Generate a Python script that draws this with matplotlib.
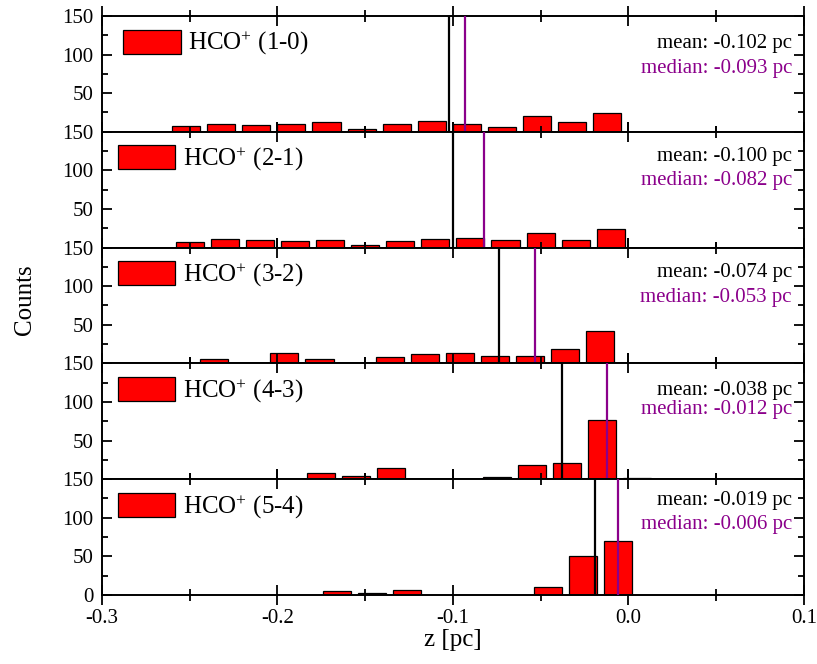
import numpy as np
import matplotlib
matplotlib.use("Agg")
import matplotlib.pyplot as plt
from matplotlib.ticker import MultipleLocator, FixedLocator, FixedFormatter

plt.rcParams['font.family'] = ['Liberation Serif', 'DejaVu Serif']
plt.rcParams['mathtext.fontset'] = 'custom'
plt.rcParams['mathtext.rm'] = 'Liberation Serif'
plt.rcParams['mathtext.it'] = 'Liberation Serif:italic'
plt.rcParams['axes.unicode_minus'] = False

# Histogram data: bin centres (pc) and counts for each transition
labels = ["HCO$^{+}$ (1-0)", "HCO$^{+}$ (2-1)", "HCO$^{+}$ (3-2)",
          "HCO$^{+}$ (4-3)", "HCO$^{+}$ (5-4)"]
bin_step = 0.02
first_centres = [-0.252, -0.250, -0.236, -0.175, -0.166]
counts_10 = [8, 10, 9, 10, 12, 3, 10, 14, 10, 6, 20, 13, 24]
counts_21 = [7, 11, 10, 9, 10, 3, 8, 11, 12, 10, 19, 10, 24]
counts_32 = [6, 0, 14, 6, 0, 8, 12, 13, 10, 10, 19, 42, 1]
counts_43 = [8, 4, 14, 0, 0, 3, 18, 21, 76, 1]
counts_54 = [5, 3, 6, 0, 0, 0, 10, 50, 70]
all_counts = [counts_10, counts_21, counts_32, counts_43, counts_54]
means = [-0.102, -0.100, -0.074, -0.038, -0.019]
medians = [-0.093, -0.082, -0.053, -0.012, -0.006]

purple = '#8B008B'
fig = plt.figure(figsize=(8.17, 6.64), dpi=100)
gs = fig.add_gridspec(5, 1, left=0.1246, right=0.984, top=0.976, bottom=0.104, hspace=0)
axes = [fig.add_subplot(gs[i]) for i in range(5)]

panel_h = 115.5
mean_off = [27, 25, 25, 27, 21]
median_off = [52, 49, 50, 46, 45]
leg_x = [0.0306, 0.023, 0.023, 0.023, 0.023]

for i, ax in enumerate(axes):
    cnt = np.array(all_counts[i], dtype=float)
    centres = first_centres[i] + bin_step * np.arange(len(cnt))
    ax.bar(centres, cnt, width=0.016, color='red', edgecolor='black',
           linewidth=0.9, label=labels[i], zorder=2)
    ax.axvline(means[i], color='black', lw=1.6, zorder=3)
    ax.axvline(medians[i], color=purple, lw=1.6, zorder=3)
    ax.set_xlim(-0.3, 0.1)
    ax.set_ylim(0, 150)
    ax.xaxis.set_major_locator(MultipleLocator(0.1))
    ax.xaxis.set_minor_locator(MultipleLocator(0.05))
    ax.yaxis.set_major_locator(FixedLocator([0, 50, 100, 150]))
    ax.yaxis.set_minor_locator(MultipleLocator(25))
    if i < 4:
        ax.yaxis.set_major_formatter(FixedFormatter(['', '50', '100', '150']))
        ax.tick_params(axis='x', labelbottom=False)
    else:
        ax.yaxis.set_major_formatter(FixedFormatter(['0', '50', '100', '150']))
        ax.xaxis.set_major_formatter(lambda v, p: f"{v:.1f}")
    ax.tick_params(axis='x', which='major', direction='inout', top=True, bottom=True,
                   length=14.4, width=1.3, labelsize=15, pad=3)
    ax.tick_params(axis='x', which='minor', direction='inout', top=True, bottom=True,
                   length=8, width=1.3)
    ax.tick_params(axis='y', which='major', direction='in', left=True, right=True,
                   length=7.5, width=1.3, labelsize=15, pad=6)
    ax.tick_params(axis='y', which='minor', direction='in', left=True, right=True,
                   length=4.5, width=1.3)
    for s in ax.spines.values():
        s.set_linewidth(1.4)
    ax.text(0.983, 1 - mean_off[i] / panel_h, f"mean: {means[i]:.3f} pc",
            transform=ax.transAxes, ha='right', va='center', fontsize=15, color='black')
    ax.text(0.983, 1 - median_off[i] / panel_h, f"median: {medians[i]:.3f} pc",
            transform=ax.transAxes, ha='right', va='center', fontsize=15, color=purple)
    ax.legend(loc='center left', bbox_to_anchor=(leg_x[i], 1 - 27.5 / panel_h),
              frameon=False, fontsize=18, borderpad=0, borderaxespad=0,
              handlelength=2.3, handleheight=1.1, handletextpad=0.3)

axes[-1].set_xlabel("z [pc]", fontsize=18, labelpad=1)
fig.text(0.031, 0.548, "Counts", rotation=90, fontsize=18, ha='center', va='center')

fig.savefig("out.png", dpi=100)
